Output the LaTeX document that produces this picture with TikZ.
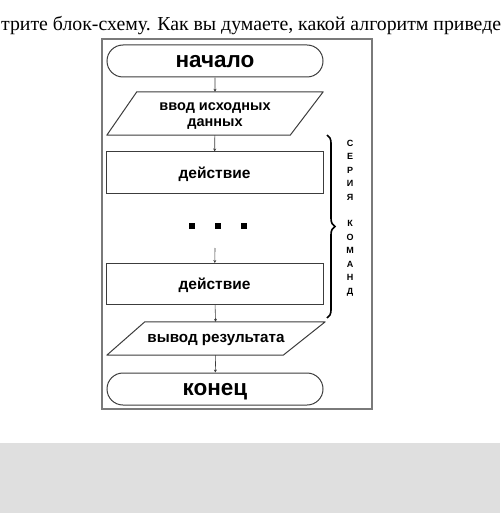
\documentclass[tikz,border=0pt]{standalone}
\usepackage{fontspec}
\setmainfont{Liberation Serif}
\newfontfamily\flowfont{Liberation Sans}
\usetikzlibrary{arrows.meta,shapes.misc,decorations.pathreplacing}
\definecolor{fcline}{HTML}{3C3C3C}
\definecolor{fcframe}{HTML}{7A7A7A}
\definecolor{fcgray}{HTML}{DFDFDF}
\tikzset{
    term/.style={
        rounded rectangle,draw=fcline,line width=1pt,
        minimum width=216pt,minimum height=32pt,inner sep=0pt,text depth=0pt,
        font=\flowfont\bfseries\fontsize{22.5}{22.5}\selectfont
    },
    io/.style={
        rectangle,inner sep=0pt,align=center,text depth=0pt,
        font=\flowfont\bfseries\fontsize{14.5}{16}\selectfont
    },
    ioline/.style={
        draw=fcline,line width=1pt,line join=round
    },
    act/.style={
        rectangle,draw=fcline,line width=1pt,text depth=0pt,
        minimum width=217pt,minimum height=41pt,inner sep=0pt,
        font=\flowfont\bfseries\fontsize{15.5}{15.5}\selectfont
    },
    dotbox/.style={
        rectangle,fill=black,minimum size=6pt,inner sep=0pt
    },
    arrow/.style={
        -{Stealth[length=3pt,width=3pt]},line width=0.6pt,draw=fcline
    }
}
\begin{document}
\begin{tikzpicture}[x=1pt,y=-1pt]
\useasboundingbox (0,0) rectangle (500,513);
\clip (0,0) rectangle (500,513);

\fill[fcgray] (0,443) rectangle (500,513);

\node[anchor=base west,inner sep=0pt,font=\fontsize{19.8}{19.8}\selectfont](question) at (1,31)
{трите блок-схему. Как вы думаете, какой алгоритм приведе};

\draw[fcframe,line width=1.4pt] (102,39) rectangle (372,409);

\node[term](start) at (215,61) {начало};

% input parallelogram
\node[io,minimum width=216pt,minimum height=43pt](input) at (215,113.5)
{\raisebox{-3pt}{ввод исходных}\\\raisebox{-3pt}{данных}};
\draw[ioline] (input.south west)--([xshift=-33pt]input.south east)
--(input.north east)--([xshift=30pt]input.north west)--cycle;

\node[act](actA) at (214.5,172.5) {действие};

\node[dotbox](dotA) at (192,226) {};
\node[dotbox](dotB) at (218,226) {};
\node[dotbox](dotC) at (244,226) {};

\coordinate (gap) at (215,248);
\node[act](actB) at (214.5,284) {действие};

% output parallelogram
\node[io,minimum width=218pt,minimum height=33pt,
font=\flowfont\bfseries\fontsize{15.2}{15.2}\selectfont](output) at (216,338.5)
{вывод результата};
\draw[ioline] (output.south west)--([xshift=-42pt]output.south east)
--(output.north east)--([xshift=38pt]output.north west)--cycle;

\node[term](stop) at (215,389) {конец};

\draw[arrow](start)--(input);
\draw[arrow](input)--(actA);
\draw[arrow](gap)--(actB);
\draw[arrow](actB)--(output);
\draw[arrow](output)--(stop);

\coordinate (braceTop) at (327,135);
\coordinate (braceBot) at (327,318);
\draw[line width=1.6pt,decorate,decoration={brace,amplitude=8pt}]
(braceTop)--(braceBot);

\node[align=center,inner sep=0pt,
font=\flowfont\bfseries\fontsize{9}{13.45}\selectfont](series) at (350,218)
{С\\Е\\Р\\И\\Я\\\mbox{}\\К\\О\\М\\А\\Н\\Д};

\end{tikzpicture}
\end{document}
